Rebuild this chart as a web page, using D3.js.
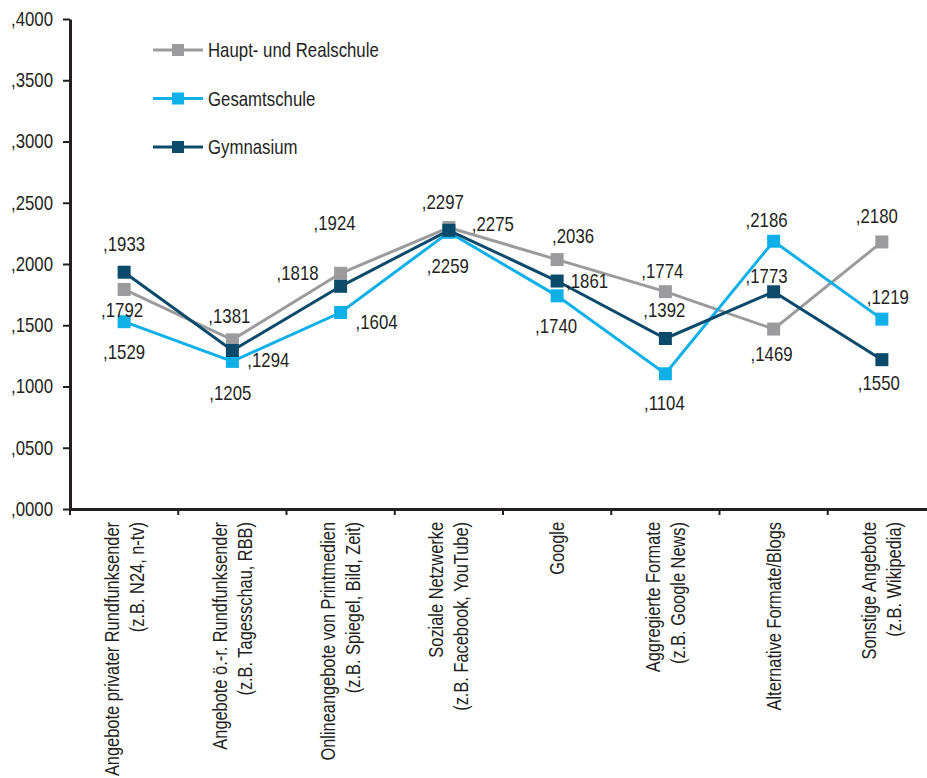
<!DOCTYPE html>
<html>
<head>
<meta charset="utf-8">
<script src="https://cdn.jsdelivr.net/npm/d3@7"></script>
<style>
  html, body { margin: 0; padding: 0; background: #ffffff; }
  svg { display: block; }
  text { font-family: "Liberation Sans", Arial, sans-serif; fill: #231f20; }
</style>
</head>
<body>
<div id="chart"></div>
<script>
// Categories (two-line labels where the source splits them)
const categories = [
  ["Angebote privater Rundfunksender", "(z.B. N24, n-tv)"],
  ["Angebote ö.-r. Rundfunksender", "(z.B. Tagesschau, RBB)"],
  ["Onlineangebote von Printmedien", "(z.B. Spiegel, Bild, Zeit)"],
  ["Soziale Netzwerke", "(z.B. Facebook, YouTube)"],
  ["Google"],
  ["Aggregierte Formate", "(z.B. Google News)"],
  ["Alternative Formate/Blogs"],
  ["Sonstige Angebote", "(z.B. Wikipedia)"]
];

const seriesNames = ["Haupt- und Realschule", "Gesamtschule", "Gymnasium"];

const hauptReal   = [0.1792, 0.1381, 0.1924, 0.2297, 0.2036, 0.1774, 0.1469, 0.2180];
const gesamt      = [0.1529, 0.1205, 0.1604, 0.2259, 0.1740, 0.1104, 0.2186, 0.1550];
const gymnasium   = [0.1933, 0.1294, 0.1818, 0.2275, 0.1861, 0.1392, 0.1773, 0.1219];

const yTicks = [0, 0.05, 0.10, 0.15, 0.20, 0.25, 0.30, 0.35, 0.40];

// Presentation
const colors = ["#9b9b9d", "#0fb0e8", "#0b4a6b"];
const fontSize = 20;
const squeeze = 0.84;      // horizontal condensing of text
const catSqueeze = 0.82;   // slightly tighter for the long category labels

// Value-label offsets from each marker, in pixels [dx, dy]
const labelOffsets = [
  [[-2, 20], [-3, -24], [-6, -51], [-6, -26], [16, -24], [-3, -21], [-2, 25], [-5, -26]],
  [[0, 30], [-2, 31], [36, 9], [-1, 34], [-1, 30], [-1, 29], [-7, -21], [-3, 64]],
  [[0, -28], [36, 9], [-43, -14], [44, -7], [30, 0], [-1, -29], [-7, -16], [6, -63]]
];

const W = 927, H = 778;
const plotLeft = 70, plotRight = 936, plotTop = 19, plotBottom = 509;

const svg = d3.select("#chart").append("svg")
  .attr("width", W).attr("height", H);

const x = d3.scaleBand().domain(d3.range(categories.length)).range([plotLeft, plotRight]);
const y = d3.scaleLinear().domain([0, 0.4]).range([plotBottom, plotTop]);
const cx = i => x(i) + x.bandwidth() / 2;

const fmt = v => d3.format(".4f")(v).replace(/^0/, "").replace(".", ",");

// condensed text helper
function label(parent, px, py, str, anchor, rot, sx = squeeze) {
  return parent.append("text")
    .attr("transform", `translate(${px},${py})${rot ? ` rotate(${rot})` : ""} scale(${sx},1)`)
    .attr("text-anchor", anchor)
    .attr("font-size", fontSize)
    .text(str);
}

// Y axis
const yAxis = svg.append("g")
  .attr("transform", `translate(${plotLeft},0)`)
  .call(d3.axisLeft(y).tickValues(yTicks).tickFormat(fmt).tickSize(7).tickSizeOuter(0));
yAxis.attr("font-family", null).attr("font-size", null);
yAxis.select(".domain").attr("stroke", "#231f20").attr("stroke-width", 3);
yAxis.selectAll(".tick line").attr("stroke", "#231f20").attr("stroke-width", 2);
yAxis.selectAll(".tick text")
  .attr("x", 0)
  .attr("transform", `translate(-17,0) scale(${squeeze},1)`)
  .attr("font-size", fontSize)
  .attr("fill", "#231f20");

// X axis
const xAxis = svg.append("g")
  .attr("transform", `translate(0,${plotBottom})`)
  .call(d3.axisBottom(x).tickValues([]).tickSizeOuter(0));
xAxis.select(".domain").attr("stroke", "#231f20").attr("stroke-width", 3);
// ticks at band boundaries
xAxis.selectAll(".bnd")
  .data(d3.range(categories.length))
  .join("line")
  .attr("class", "bnd")
  .attr("x1", d => x(d)).attr("x2", d => x(d))
  .attr("y1", 0).attr("y2", 6)
  .attr("stroke", "#231f20").attr("stroke-width", 2);

// Category labels, rotated
const catG = svg.append("g");
categories.forEach((lines, i) => {
  const lh = 25;
  const n = lines.length;
  lines.forEach((ln, j) => {
    const off = (j - (n - 1) / 2) * lh;
    label(catG, cx(i) + off + 7, 522, ln, "end", -90, catSqueeze);
  });
});

// Lines and markers
const allSeries = [hauptReal, gesamt, gymnasium];
const line = d3.line()
  .x((d, i) => cx(i))
  .y(d => y(d));

const m = 13;
allSeries.forEach((vals, s) => {
  const g = svg.append("g");
  g.append("path")
    .datum(vals)
    .attr("d", line)
    .attr("fill", "none")
    .attr("stroke", colors[s])
    .attr("stroke-width", 3)
    .attr("stroke-linejoin", "miter");
  g.selectAll("rect")
    .data(vals)
    .join("rect")
    .attr("x", (d, i) => cx(i) - m / 2)
    .attr("y", d => y(d) - m / 2)
    .attr("width", m).attr("height", m)
    .attr("fill", colors[s]);
});

// Value labels
allSeries.forEach((vals, s) => {
  const g = svg.append("g");
  vals.forEach((v, i) => {
    label(g, cx(i) + labelOffsets[s][i][0], y(v) + labelOffsets[s][i][1], fmt(v), "middle")
      .attr("dy", "0.36em");
  });
});

// Legend
const lg = svg.append("g");
seriesNames.forEach((name, s) => {
  const ly = 50 + s * 48.5;
  lg.append("line")
    .attr("x1", 153).attr("x2", 203).attr("y1", ly).attr("y2", ly)
    .attr("stroke", colors[s]).attr("stroke-width", 3);
  lg.append("rect")
    .attr("x", 178 - 6).attr("y", ly - 6).attr("width", 12).attr("height", 12)
    .attr("fill", colors[s]);
  label(lg, 208, ly, name, "start").attr("dy", "0.36em");
});
</script>
</body>
</html>
